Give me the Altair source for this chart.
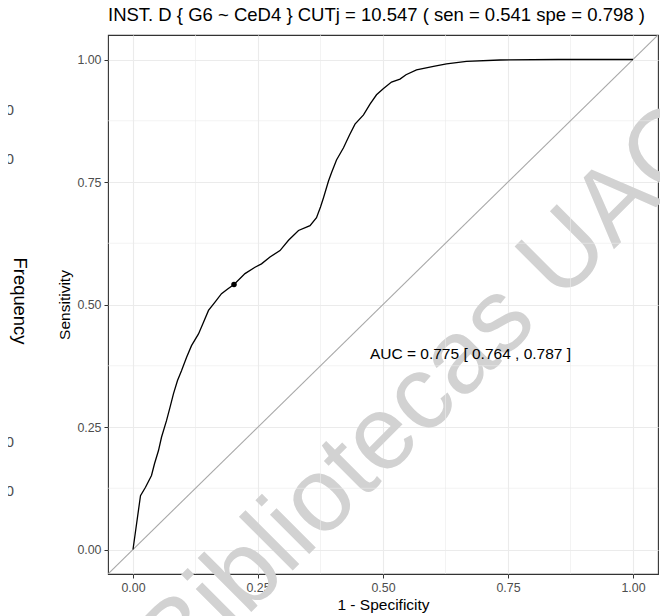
import altair as alt
import pandas as pd

# ---------------- data ----------------
fpr = [0.0, 0.015, 0.025, 0.037, 0.043, 0.051, 0.057, 0.067, 0.074, 0.081,
       0.089, 0.097, 0.107, 0.117, 0.131, 0.141, 0.151, 0.164, 0.177, 0.190,
       0.202, 0.224, 0.244, 0.257, 0.274, 0.294, 0.311, 0.331, 0.354, 0.367,
       0.375, 0.381, 0.391, 0.397, 0.407, 0.421, 0.433, 0.444, 0.461, 0.474,
       0.487, 0.501, 0.517, 0.534, 0.546, 0.567, 0.601, 0.627, 0.667, 0.734,
       0.850, 1.0]
tpr = [0.0, 0.110, 0.127, 0.151, 0.175, 0.202, 0.229, 0.263, 0.290, 0.318,
       0.345, 0.365, 0.392, 0.416, 0.440, 0.464, 0.488, 0.505, 0.522, 0.532,
       0.541, 0.563, 0.576, 0.583, 0.597, 0.610, 0.631, 0.651, 0.661, 0.677,
       0.699, 0.718, 0.752, 0.769, 0.795, 0.820, 0.846, 0.868, 0.887, 0.909,
       0.928, 0.941, 0.954, 0.960, 0.969, 0.979, 0.986, 0.991, 0.996, 0.999,
       1.0, 1.0]
cut_fpr = [0.202]
cut_tpr = [0.541]
diag_vals = [-0.05, 1.05]
major_ticks = [0.0, 0.25, 0.5, 0.75, 1.0]
minor_ticks = [0.125, 0.375, 0.625, 0.875]
title_text = ["INST. D { G6 ~ CeD4 } CUTj = 10.547 ( sen = 0.541 spe = 0.798 )"]
auc_text = ["AUC = 0.775 [ 0.764 , 0.787 ]"]
auc_x = [0.675]
auc_y = [0.40]
watermark_text = ["Bibliotecas UAC"]
side_labels = ["40", "30", "30", "40"]
side_title = ["Frequency"]

FONT = "Liberation Sans"

roc_df = pd.DataFrame({"fpr": fpr, "tpr": tpr})
cut_df = pd.DataFrame({"fpr": cut_fpr, "tpr": cut_tpr})
diag_df = pd.DataFrame({"a": diag_vals, "b": diag_vals})
minor_df = pd.DataFrame({"v": minor_ticks})
auc_df = pd.DataFrame({"x": auc_x, "y": auc_y, "t": auc_text})

xs = alt.Scale(domain=[-0.05, 1.05], nice=False, zero=False)
ys = alt.Scale(domain=[-0.05, 1.05], nice=False, zero=False)
xaxis = alt.Axis(values=major_ticks, format=".2f", title="1 - Specificity")
yaxis = alt.Axis(values=major_ticks, format=".2f", title="Sensitivity")

# watermark (under the data)
wm = alt.Chart(pd.DataFrame({"t": watermark_text})).mark_text(
    font=FONT, fontSize=105, color="#d2d2d2", angle=315,
    align="center", baseline="middle"
).encode(text="t:N", x=alt.value(318), y=alt.value(357))

minor_x = alt.Chart(minor_df).mark_rule(color="#ebebeb", strokeWidth=0.6).encode(
    x=alt.X("v:Q", scale=xs, axis=xaxis))
minor_y = alt.Chart(minor_df).mark_rule(color="#ebebeb", strokeWidth=0.6).encode(
    y=alt.Y("v:Q", scale=ys, axis=yaxis))

diag = alt.Chart(diag_df).mark_line(color="#a8a8a8", strokeWidth=1.1, clip=True).encode(
    x=alt.X("a:Q", scale=xs, axis=xaxis),
    y=alt.Y("b:Q", scale=ys, axis=yaxis))

roc = alt.Chart(roc_df).mark_line(color="black", strokeWidth=1.3).encode(
    x=alt.X("fpr:Q", scale=xs, axis=xaxis),
    y=alt.Y("tpr:Q", scale=ys, axis=yaxis),
    order="fpr:Q")

cut = alt.Chart(cut_df).mark_point(filled=True, color="black", size=30, opacity=1).encode(
    x=alt.X("fpr:Q", scale=xs, axis=xaxis),
    y=alt.Y("tpr:Q", scale=ys, axis=yaxis))

auc = alt.Chart(auc_df).mark_text(
    font=FONT, fontSize=15.5, color="black", align="center", baseline="middle"
).encode(x=alt.X("x:Q", scale=xs, axis=xaxis), y=alt.Y("y:Q", scale=ys, axis=yaxis), text="t:N")

# plot title, left-aligned with the panel
title = alt.Chart(pd.DataFrame({"t": title_text})).mark_text(
    font=FONT, fontSize=18.5, color="black", align="left", baseline="alphabetic"
).encode(text="t:N", x=alt.value(0), y=alt.value(-14))

# fragments of a neighbouring panel at the far left
side_y_px = [76, 125, 408, 457]
side_layers = []
for lab, ypx in zip(side_labels, side_y_px):
    side_layers.append(
        alt.Chart(pd.DataFrame({"t": [lab]})).mark_text(
            font=FONT, fontSize=14.8, color="#4d4d4d", align="right", baseline="middle"
        ).encode(text="t:N", x=alt.value(-94), y=alt.value(ypx))
    )
freq = alt.Chart(pd.DataFrame({"t": side_title})).mark_text(
    font=FONT, fontSize=18.4, color="black", align="center", baseline="middle", angle=90
).encode(text="t:N", x=alt.value(-88), y=alt.value(266))

chart = alt.layer(
    wm, minor_x, minor_y, diag, roc, cut, auc, title, freq, *side_layers
).properties(
    width=550, height=539,
    autosize=alt.AutoSizeParams(type="none"),
    padding={"left": 100, "top": 27, "right": 2, "bottom": 44},
).configure_view(
    stroke="#333333", strokeWidth=1.1
).configure_axis(
    domain=False, grid=True, gridColor="#ebebeb", gridWidth=1.1,
    tickColor="#333333", tickSize=4, tickWidth=1,
    labelColor="#4d4d4d", labelFont=FONT, labelFontSize=12.4, labelPadding=3,
    titleFont=FONT, titleFontSize=15.5, titleFontWeight="normal", titleColor="black",
    titlePadding=4
)

chart.save("out.html", embed_options={"renderer": "svg", "actions": False})
